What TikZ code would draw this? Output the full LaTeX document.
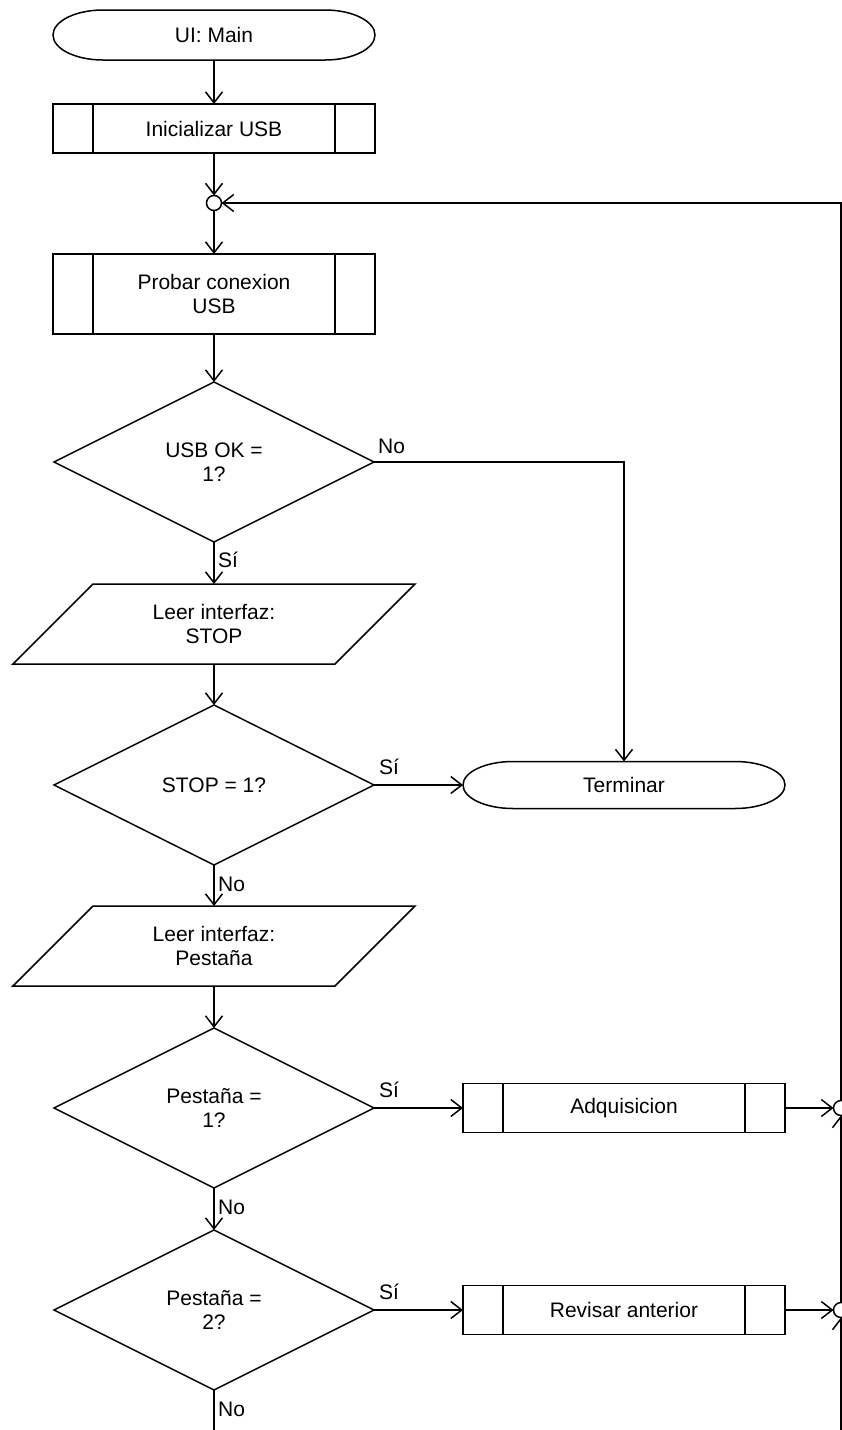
\documentclass[tikz,border=0pt]{standalone}
\usepackage{fontspec}
\setmainfont{Liberation Sans}
\usetikzlibrary{arrows.meta,shapes.geometric}
\begin{document}
\begin{tikzpicture}[x=1pt,y=-1pt,
  every node/.style={font=\fontsize{21}{24}\selectfont, align=center, text=black},
  line/.style={line width=1.5pt, draw=black},
  arr/.style={line width=1.5pt, draw=black, -{Straight Barb[length=11pt,width=17pt,line width=1.5pt]}},
  base/.style={inner sep=0pt, minimum width=322pt, outer sep=0pt},
  procbox/.style={base, draw, line width=1.5pt, rectangle, minimum height=49pt},
  decbox/.style={diamond, draw, line width=1.5pt, minimum width=320pt, minimum height=160pt, inner sep=0pt, outer sep=0pt},
  connbox/.style={circle, draw, line width=1.5pt, minimum size=15pt, inner sep=0pt, outer sep=0pt},
  lbl/.style={inner sep=0pt, anchor=base west}
]
\useasboundingbox (0,0) rectangle (842,1430);

% terminals
\node[base, minimum height=50pt] (t1) at (214,35) {UI: Main};
\draw[line, shift={(214,35)}] (-111,-25) -- (111,-25)
  .. controls (138.6,-25) and (161,-13.8) .. (161,0)
  .. controls (161,13.8) and (138.6,25) .. (111,25) -- (-111,25)
  .. controls (-138.6,25) and (-161,13.8) .. (-161,0)
  .. controls (-161,-13.8) and (-138.6,-25) .. cycle;

\node[base, minimum height=47pt] (term) at (624,785) {Terminar};
\draw[line, shift={(624,785)}] (-111,-23.5) -- (111,-23.5)
  .. controls (138.6,-23.5) and (161,-13) .. (161,0)
  .. controls (161,13) and (138.6,23.5) .. (111,23.5) -- (-111,23.5)
  .. controls (-138.6,23.5) and (-161,13) .. (-161,0)
  .. controls (-161,-13) and (-138.6,-23.5) .. cycle;

% predefined processes
\node[procbox] (p1) at (214,128.5) {Inicializar USB};
\node[procbox, minimum height=80pt] (p2) at (214,294) {Probar conexion\\USB};
\node[procbox] (p3) at (624,1108) {Adquisicion};
\node[procbox] (p4) at (624,1310) {Revisar anterior};
\foreach \n in {p1,p2,p3,p4}{
  \draw[line] ([xshift=40pt]\n.north west) -- ([xshift=40pt]\n.south west);
  \draw[line] ([xshift=-40pt]\n.north east) -- ([xshift=-40pt]\n.south east);
}

% connectors (circles)
\node[connbox] (c1) at (214,203) {};
\node[connbox] (m1) at (841,1108) {};
\node[connbox] (m2) at (841,1310) {};

% decisions
\node[decbox] (d1) at (214,462) {USB OK =\\1?};
\node[decbox] (d2) at (214,785) {STOP = 1?};
\node[decbox] (d3) at (214,1108) {Pestaña =\\1?};
\node[decbox] (d4) at (214,1310) {Pestaña =\\2?};

% input/output parallelograms
\node[base, minimum height=80pt] (r1) at (214,624) {Leer interfaz:\\STOP};
\node[base, minimum height=80pt] (r2) at (214,946) {Leer interfaz:\\Pestaña};
\foreach \n in {r1,r2}{
  \draw[line] ([xshift=40pt]\n.north west) -- ([xshift=40pt]\n.north east)
    -- ([xshift=-40pt]\n.south east) -- ([xshift=-40pt]\n.south west) -- cycle;
}

\coordinate (bot) at (214,1430);
\coordinate (rb) at (841,1430);

% flow
\draw[arr] (t1) -- (p1);
\draw[arr] (p1) -- (c1);
\draw[arr] (c1) -- (p2);
\draw[arr] (p2) -- (d1);
\draw[arr] (d1.south) -- (r1.north);
\node[lbl] at ([xshift=4pt,yshift=-25pt]d1.south) {Sí};
\draw[arr] (d1.east) -| (term.north);
\node[lbl] at ([xshift=4pt,yshift=9pt]d1.east) {No};
\draw[arr] (r1.south) -- (d2.north);
\draw[arr] (d2.east) -- (term.west);
\node[lbl] at ([xshift=5pt,yshift=11pt]d2.east) {Sí};
\draw[arr] (d2.south) -- (r2.north);
\node[lbl] at ([xshift=4pt,yshift=-26pt]d2.south) {No};
\draw[arr] (r2.south) -- (d3.north);
\draw[arr] (d3.east) -- (p3.west);
\node[lbl] at ([xshift=5pt,yshift=11pt]d3.east) {Sí};
\draw[arr] (p3.east) -- (m1.west);
\draw[arr] (d3.south) -- (d4.north);
\node[lbl] at ([xshift=4pt,yshift=-26pt]d3.south) {No};
\draw[arr] (d4.east) -- (p4.west);
\node[lbl] at ([xshift=5pt,yshift=11pt]d4.east) {Sí};
\draw[arr] (p4.east) -- (m2.west);
\draw[line] (d4.south) -- (bot);
\node[lbl] at ([xshift=4pt,yshift=-26pt]d4.south) {No};
\draw[arr] (rb) -- (m2.south);
\draw[arr] (m2.north) -- (m1.south);
\draw[arr] (m1.north) |- (c1.east);
\end{tikzpicture}
\end{document}
